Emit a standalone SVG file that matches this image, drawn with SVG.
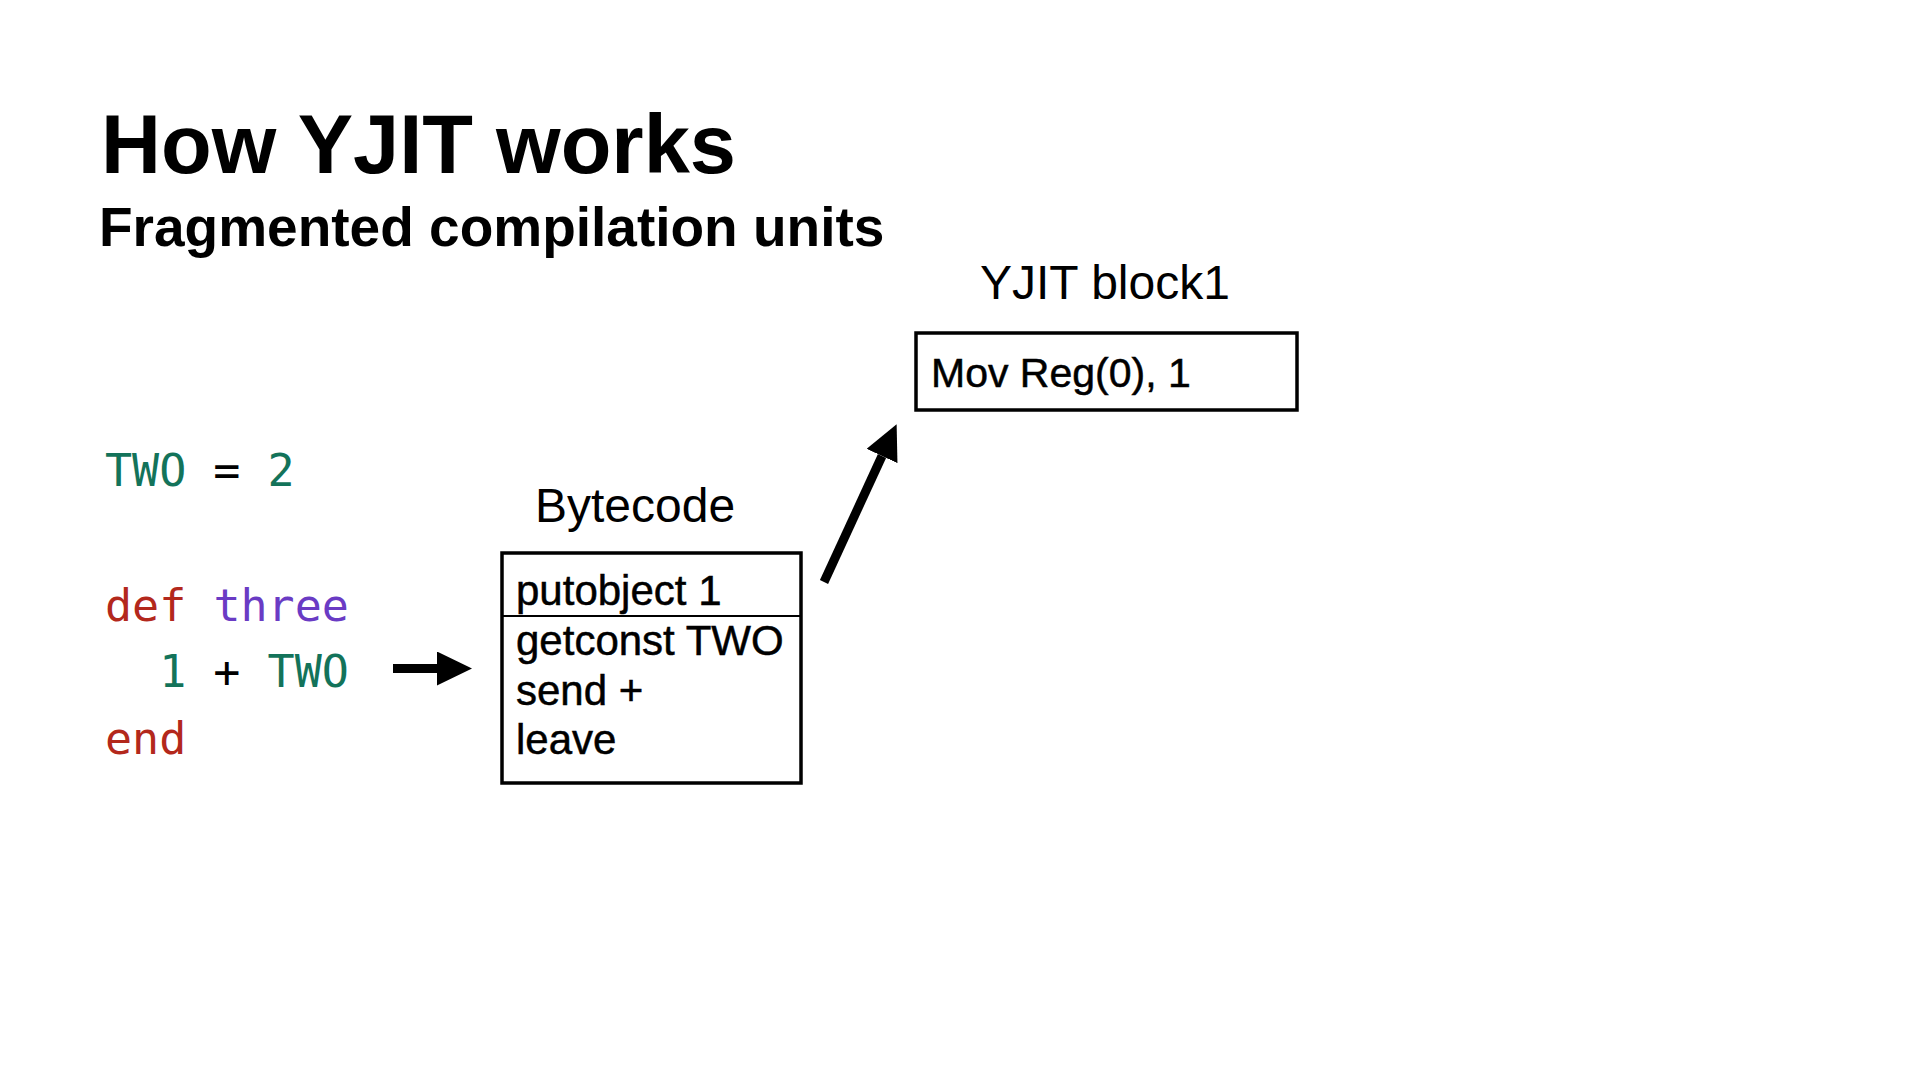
<svg xmlns="http://www.w3.org/2000/svg" width="1920" height="1080" viewBox="0 0 1920 1080">
<defs>
<style>
.title{font-family:"Liberation Sans",Arial,sans-serif;font-weight:bold;fill:#000}
.lbl{font-family:"Liberation Sans",Arial,sans-serif;fill:#000}
.inbox{font-family:"Liberation Sans",Arial,sans-serif;fill:#000;stroke:#000;stroke-width:0.5}
.code{font-family:"DejaVu Sans Mono",monospace;font-size:45px}
.g{fill:#13735a}.r{fill:#b3281c}.p{fill:#6a3bc4}.k{fill:#000}
.box{fill:#fff;stroke:#000;stroke-width:3.5}
.conn{stroke:#000;stroke-width:9;fill:none}
</style>
<marker id="ah" viewBox="0 0 35 34" refX="0" refY="17" markerWidth="35" markerHeight="34" markerUnits="userSpaceOnUse" orient="auto">
<path d="M0,0 L35,17 L0,34 Z" fill="#000"/>
</marker>
</defs>
<rect width="1920" height="1080" fill="#fff"/>
<g id="title">
<text class="title" x="101" y="173" font-size="83">How YJIT works</text>
<text class="title" x="99" y="246" font-size="55">Fragmented compilation units</text>
</g>
<g id="source-code">
<text class="code" x="105" y="486"><tspan class="g">TWO</tspan><tspan class="k"> = </tspan><tspan class="g">2</tspan></text>
<text class="code" x="105" y="621" xml:space="preserve"><tspan class="r">def</tspan> <tspan class="p">three</tspan></text>
<text class="code" x="105" y="687" xml:space="preserve">  <tspan class="g">1</tspan><tspan class="k"> + </tspan><tspan class="g">TWO</tspan></text>
<text class="code r" x="105" y="754">end</text>
</g>
<g id="bytecode">
<text class="lbl" x="535" y="522" font-size="48">Bytecode</text>
<rect class="box" x="502" y="553" width="299" height="230"/>
<line x1="502" y1="616" x2="801" y2="616" stroke="#000" stroke-width="2"/>
<text class="inbox" x="516" y="605" font-size="42">putobject 1</text>
<text class="inbox" x="516" y="655" font-size="42">getconst TWO</text>
<text class="inbox" x="516" y="705" font-size="42">send +</text>
<text class="inbox" x="516" y="754" font-size="42">leave</text>
</g>
<g id="yjit-block1">
<text class="lbl" x="980" y="299" font-size="48">YJIT block1</text>
<rect class="box" x="916" y="333" width="381" height="77"/>
<text class="inbox" x="931" y="387" font-size="41" stroke-width="0.8">Mov Reg(0), 1</text>
</g>
<g id="connectors">
<line class="conn" x1="393" y1="668.5" x2="437" y2="668.5" marker-end="url(#ah)"/>
<line class="conn" x1="824" y1="582" x2="882" y2="456" marker-end="url(#ah)"/>
</g>
</svg>
